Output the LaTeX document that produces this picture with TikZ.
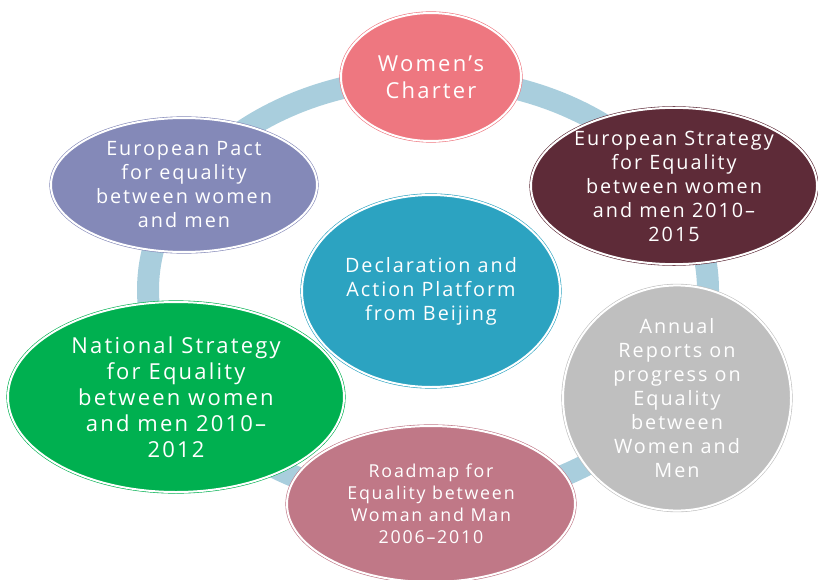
\documentclass[tikz,border=0pt]{standalone}
\usepackage{fontspec}
\setmainfont{Open Sans}[LetterSpace=10]
\usetikzlibrary{shapes.geometric}
\definecolor{ringc}{HTML}{A9CEDD}
\definecolor{cwc}{HTML}{EE7780}
\definecolor{ces}{HTML}{5E2B38}
\definecolor{car}{HTML}{BFBFBF}
\definecolor{crm}{HTML}{C07887}
\definecolor{cns}{HTML}{00B050}
\definecolor{cep}{HTML}{8489B8}
\definecolor{cdb}{HTML}{2CA3C1}
\begin{document}
\begin{tikzpicture}[x=1pt,y=-1pt,
  bub/.style={ellipse, inner sep=0pt, align=center, text=white, line width=0.6pt, double=white, double distance=2pt},
  fa/.style={font=\fontsize{19.8}{24}\selectfont},
]
\useasboundingbox (0,0) rectangle (818,580);
\draw[ringc, line width=22pt] (428,290) ellipse [x radius=280pt, y radius=212pt];
\node[bub, fill=cwc, draw=cwc, minimum width=180pt, minimum height=128pt, font=\fontsize{22}{27}\selectfont] (wc) at (431,77) {Women’s\\Charter};
\node[bub, fill=ces, draw=ces, minimum width=286pt, minimum height=156pt, fa] (es) at (674,186) {European Strategy\\for Equality\\between women\\and men 2010–\\2015};
\node[bub, fill=car, draw=car, minimum width=228pt, minimum height=166pt, fa] (ar) at (677,398) {Annual\\Reports on\\progress on\\Equality\\between\\Women and\\Men};
\node[bub, fill=crm, draw=crm, minimum width=288pt, minimum height=156pt, font=\fontsize{17.8}{22}\selectfont] (rm) at (431,504) {Roadmap for\\Equality between\\Woman and Man\\2006–2010};
\node[bub, fill=cns, draw=cns, minimum width=336pt, minimum height=190pt, font=\fontsize{22}{26}\selectfont] (ns) at (176,397) {National Strategy\\for Equality\\between women\\and men 2010–\\2012};
\node[bub, fill=cep, draw=cep, minimum width=266pt, minimum height=134pt, fa] (ep) at (184,185) {European Pact\\for equality\\between women\\and men};
\node[bub, fill=cdb, draw=cdb, minimum width=258pt, minimum height=192pt, fa] (db) at (431,291) {Declaration and\\Action Platform\\from Beijing};
\end{tikzpicture}
\end{document}
